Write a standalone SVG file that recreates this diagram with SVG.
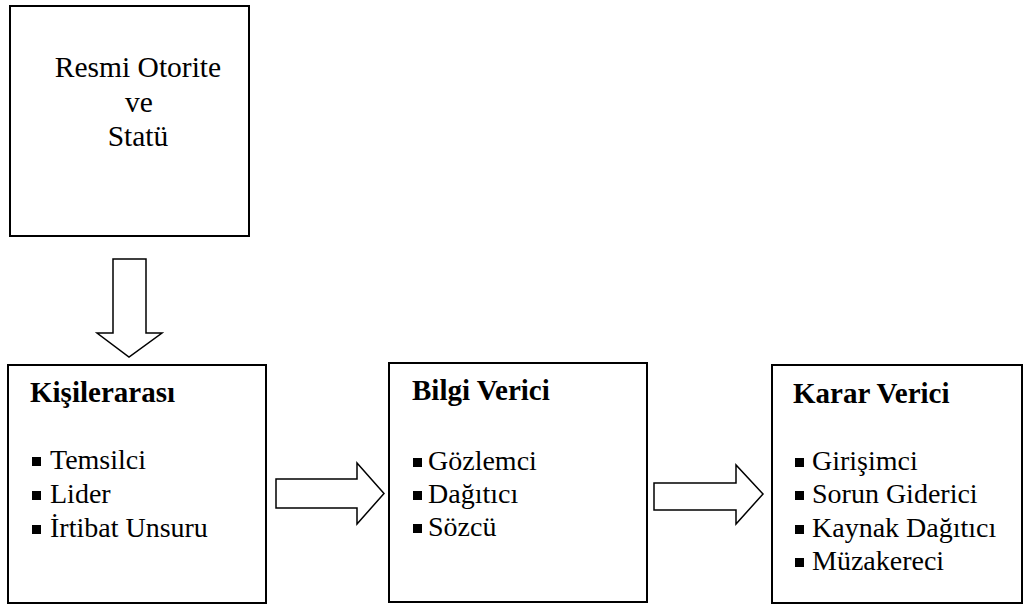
<svg xmlns="http://www.w3.org/2000/svg" width="1024" height="606" viewBox="0 0 1024 606">
<style>
.box{fill:#fff;stroke:#000;stroke-width:2}
.arr{fill:#fff;stroke:#000;stroke-width:1.5;stroke-linejoin:miter}
text{font-family:'Liberation Serif','Tinos','Times New Roman','DejaVu Serif',serif;fill:#000}
.t{font-size:28px}
.c{font-size:29.5px}
.h{font-size:29px;font-weight:bold}
.b{fill:#000}
</style>
<rect width="1024" height="606" fill="#fff"/>
<g id="connectors">
<polygon class="arr" points="113,259 146,259 146,333 162,333 129,357 97,333 113,333"/>
<polygon class="arr" points="276,479 357,479 357,463 384,493.5 357,524 357,508 276,508"/>
<polygon class="arr" points="654,483 736,483 736,465 763,494 736,524 736,510 654,510"/>
</g>
<g id="node-resmi">
<rect class="box" x="10" y="6" width="239" height="230"/>
<text class="c" x="138" y="77" text-anchor="middle">Resmi Otorite</text>
<text class="c" x="139" y="112" text-anchor="middle">ve</text>
<text class="c" x="138" y="146" text-anchor="middle">Statü</text>
</g>
<g id="node-kisilerarasi">
<rect class="box" x="8" y="365" width="258" height="238"/>
<text class="h" x="30" y="402">Kişilerarası</text>
<rect class="b" x="32" y="457" width="9" height="9"/>
<text class="t" x="50" y="469">Temsilci</text>
<rect class="b" x="32" y="491" width="9" height="9"/>
<text class="t" x="50" y="503">Lider</text>
<rect class="b" x="32" y="525" width="9" height="9"/>
<text class="t" x="50" y="537">İrtibat Unsuru</text>
</g>
<g id="node-bilgi">
<rect class="box" x="389" y="363" width="258" height="239"/>
<text class="h" x="412" y="400">Bilgi Verici</text>
<rect class="b" x="413" y="458" width="9" height="9"/>
<text class="t" x="428" y="470">Gözlemci</text>
<rect class="b" x="413" y="491" width="9" height="9"/>
<text class="t" x="428" y="503">Dağıtıcı</text>
<rect class="b" x="413" y="524" width="9" height="9"/>
<text class="t" x="428" y="536">Sözcü</text>
</g>
<g id="node-karar">
<rect class="box" x="772" y="365" width="250" height="238"/>
<text class="h" x="793" y="403">Karar Verici</text>
<rect class="b" x="795" y="458" width="9" height="9"/>
<text class="t" x="812" y="470">Girişimci</text>
<rect class="b" x="795" y="491" width="9" height="9"/>
<text class="t" x="812" y="503">Sorun Giderici</text>
<rect class="b" x="795" y="525" width="9" height="9"/>
<text class="t" x="812" y="537">Kaynak Dağıtıcı</text>
<rect class="b" x="795" y="558" width="9" height="9"/>
<text class="t" x="812" y="570">Müzakereci</text>
</g>
</svg>
